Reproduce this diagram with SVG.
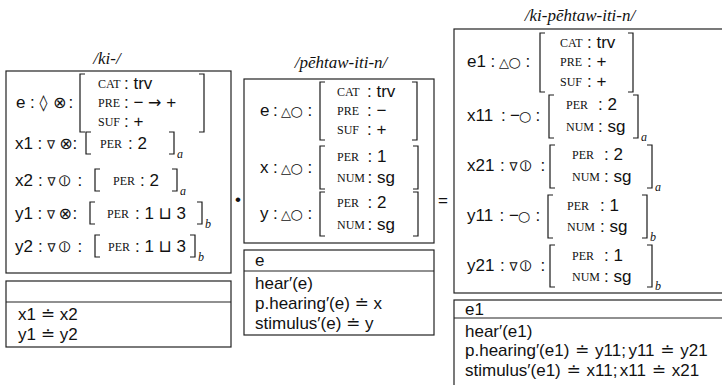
<svg xmlns="http://www.w3.org/2000/svg" width="722" height="385" viewBox="0 0 722 385">
<style>
.box{fill:#fff;stroke:#222;stroke-width:1.2}
.ln{stroke:#222;stroke-width:1.2}
.br{fill:none;stroke:#1a1a1a;stroke-width:1.2}
.t{font-family:"Liberation Sans","DejaVu Sans",sans-serif;font-size:17px;fill:#111}
.sy{font-family:"DejaVu Sans",sans-serif;font-size:16px}
.ar{font-family:"DejaVu Sans",sans-serif;font-size:16px}
.tri{font-family:"DejaVu Sans",sans-serif;font-size:13px}
.cir{font-family:"DejaVu Sans",sans-serif;font-size:14px}
.nab{font-family:"DejaVu Sans",sans-serif;font-size:12px}
.cv{font-family:"DejaVu Sans",sans-serif;font-size:16px}
.f{font-family:"Liberation Serif","DejaVu Serif",serif;font-size:12px;fill:#111}
.ti{font-family:"Liberation Serif","DejaVu Serif",serif;font-style:italic;font-size:17px;fill:#111}
.sub{font-family:"Liberation Serif","DejaVu Serif",serif;font-style:italic;font-size:12px;fill:#111}
</style>
<rect width="722" height="385" fill="#fff"/>

<g id="ki">
<text class="ti" x="107" y="64" text-anchor="middle">/ki-/</text>
<rect class="box" x="6" y="71" width="225" height="202"/>
<text class="t" y="108"><tspan x="16">e</tspan><tspan x="30">:</tspan><tspan class="sy" x="39.5">◊</tspan><tspan class="sy" x="53">⊗</tspan><tspan x="68.5">:</tspan></text>
<path class="br" d="M85,74 H80 V132 H85 M199,74 H204 V132 H199"/>
<text class="f" x="98" y="88">CAT</text><text class="t" x="124" y="89">: trv</text>
<text class="f" x="98" y="107">PRE</text><text class="t" x="124" y="108">: − <tspan class="ar">→</tspan> +</text>
<text class="f" x="98" y="126">SUF</text><text class="t" x="124" y="127">: +</text>

<text class="t" y="149"><tspan x="15">x1</tspan><tspan x="37.6">:</tspan><tspan class="nab" x="47">∇</tspan><tspan class="sy" x="59.3">⊗</tspan><tspan x="72.6">:</tspan></text>
<path class="br" d="M91,132 H86 V154 H91 M169,132 H174 V154 H169"/>
<text class="f" x="100" y="148">PER</text><text class="t" x="128" y="149">: 2</text>
<text class="sub" x="177" y="158">a</text>

<text class="t" y="186"><tspan x="15">x2</tspan><tspan x="38">:</tspan><tspan class="nab" x="47.5">∇</tspan><tspan class="cv" x="58.5">⦶</tspan><tspan x="77.6">:</tspan></text>
<path class="br" d="M100,169 H95 V191 H100 M172,169 H177 V191 H172"/>
<text class="f" x="113" y="185">PER</text><text class="t" x="140" y="186">: 2</text>
<text class="sub" x="180" y="195">a</text>

<text class="t" y="219"><tspan x="15">y1</tspan><tspan x="37.6">:</tspan><tspan class="nab" x="47">∇</tspan><tspan class="sy" x="58.6">⊗</tspan><tspan x="72.6">:</tspan></text>
<path class="br" d="M95,202 H90 V224 H95 M197,202 H202 V224 H197"/>
<text class="f" x="107" y="218">PER</text><text class="t" x="135" y="219">: 1 ⊔ 3</text>
<text class="sub" x="205" y="228">b</text>

<text class="t" y="252"><tspan x="15">y2</tspan><tspan x="38">:</tspan><tspan class="nab" x="47.5">∇</tspan><tspan class="cv" x="58.5">⦶</tspan><tspan x="77.6">:</tspan></text>
<path class="br" d="M100,235 H95 V257 H100 M190,235 H195 V257 H190"/>
<text class="f" x="108" y="251">PER</text><text class="t" x="135" y="252">: 1 ⊔ 3</text>
<text class="sub" x="198" y="261">b</text>
</g>

<g id="ki-conditions">
<rect class="box" x="6" y="281" width="225" height="66"/>
<line class="ln" x1="6" y1="302" x2="231" y2="302"/>
<text class="t" x="18" y="320">x1 ≐ x2</text>
<text class="t" x="18" y="340">y1 ≐ y2</text>
</g>

<g id="op-compose">
<text class="t" x="238" y="205" text-anchor="middle" font-size="19">•</text>
</g>

<g id="pehtaw">
<text class="ti" x="341" y="68" text-anchor="middle">/pēhtaw-iti-n/</text>
<rect class="box" x="244" y="79" width="190" height="164"/>
<text class="t" y="116"><tspan x="260">e</tspan><tspan x="273">:</tspan><tspan class="tri" x="281">△</tspan><tspan class="cir" x="290.5">○</tspan><tspan x="307.6">:</tspan></text>
<path class="br" d="M325,82 H320 V140 H325 M412,82 H417 V140 H412"/>
<text class="f" x="337" y="96">CAT</text><text class="t" x="367" y="97">: trv</text>
<text class="f" x="337" y="115">PRE</text><text class="t" x="367" y="116">: −</text>
<text class="f" x="337" y="134">SUF</text><text class="t" x="367" y="135">: +</text>

<text class="t" y="173"><tspan x="260">x</tspan><tspan x="273">:</tspan><tspan class="tri" x="281">△</tspan><tspan class="cir" x="290.5">○</tspan><tspan x="307.6">:</tspan></text>
<path class="br" d="M325,146 H320 V189 H325 M413,146 H418 V189 H413"/>
<text class="f" x="337" y="161">PER</text><text class="t" x="367.5" y="162">: 1</text>
<text class="f" x="337" y="182">NUM</text><text class="t" x="367.5" y="183">: sg</text>

<text class="t" y="219"><tspan x="260">y</tspan><tspan x="273">:</tspan><tspan class="tri" x="281">△</tspan><tspan class="cir" x="290.5">○</tspan><tspan x="307.6">:</tspan></text>
<path class="br" d="M325,192 H320 V236 H325 M413,192 H418 V236 H413"/>
<text class="f" x="337" y="207">PER</text><text class="t" x="367.5" y="208">: 2</text>
<text class="f" x="337" y="229">NUM</text><text class="t" x="367.5" y="230">: sg</text>
</g>

<g id="pehtaw-conditions">
<rect class="box" x="244" y="250" width="190" height="85"/>
<line class="ln" x1="244" y1="271" x2="434" y2="271"/>
<text class="t" x="255" y="266">e</text>
<text class="t" x="255" y="289">hear′(e)</text>
<text class="t" x="255" y="309">p.hearing′(e) ≐ x</text>
<text class="t" x="255" y="329">stimulus′(e) ≐ y</text>
</g>

<g id="op-equals">
<text class="t" x="443" y="206" text-anchor="middle">=</text>
</g>

<g id="ki-pehtaw">
<text class="ti" x="580" y="21" text-anchor="middle">/ki-pēhtaw-iti-n/</text>
<rect class="box" x="454" y="29" width="280" height="264"/>
<text class="t" y="67"><tspan x="467">e1</tspan><tspan x="490.5">:</tspan><tspan class="tri" x="499">△</tspan><tspan class="cir" x="508.5">○</tspan><tspan x="525.6">:</tspan></text>
<path class="br" d="M545,33 H540 V92 H545 M628,33 H633 V92 H628"/>
<text class="f" x="560" y="47">CAT</text><text class="t" x="587" y="48">: trv</text>
<text class="f" x="560" y="66">PRE</text><text class="t" x="587" y="67">: +</text>
<text class="f" x="560" y="86">SUF</text><text class="t" x="587" y="87">: +</text>

<text class="t" y="121"><tspan x="467">x11</tspan><tspan x="501">:</tspan><tspan x="510">−</tspan><tspan class="cir" x="519">○</tspan><tspan x="535.6">:</tspan></text>
<path class="br" d="M554,95 H549 V138 H554 M633,95 H638 V138 H633"/>
<text class="f" x="566" y="109">PER</text><text class="t" x="598" y="110">: 2</text>
<text class="f" x="566" y="131">NUM</text><text class="t" x="598" y="132">: sg</text>
<text class="sub" x="641" y="141">a</text>

<text class="t" y="171"><tspan x="467">x21</tspan><tspan x="500">:</tspan><tspan class="nab" x="509.5">∇</tspan><tspan class="cv" x="520.3">⦶</tspan><tspan x="540.6">:</tspan></text>
<path class="br" d="M555,145 H550 V188 H555 M647,145 H652 V188 H647"/>
<text class="f" x="572" y="159">PER</text><text class="t" x="604" y="160">: 2</text>
<text class="f" x="572" y="181">NUM</text><text class="t" x="604" y="182">: sg</text>
<text class="sub" x="655" y="191">a</text>

<text class="t" y="221"><tspan x="467">y11</tspan><tspan x="499.5">:</tspan><tspan x="509">−</tspan><tspan class="cir" x="518">○</tspan><tspan x="535.6">:</tspan></text>
<path class="br" d="M553,195 H548 V238 H553 M642,195 H647 V238 H642"/>
<text class="f" x="567" y="210">PER</text><text class="t" x="600" y="211">: 1</text>
<text class="f" x="567" y="231">NUM</text><text class="t" x="600" y="232">: sg</text>
<text class="sub" x="650" y="241">b</text>

<text class="t" y="271"><tspan x="467">y21</tspan><tspan x="500">:</tspan><tspan class="nab" x="509.5">∇</tspan><tspan class="cv" x="520.3">⦶</tspan><tspan x="540.6">:</tspan></text>
<path class="br" d="M555,245 H550 V287 H555 M647,245 H652 V287 H647"/>
<text class="f" x="572" y="260">PER</text><text class="t" x="604" y="261">: 1</text>
<text class="f" x="572" y="281">NUM</text><text class="t" x="604" y="282">: sg</text>
<text class="sub" x="655" y="290">b</text>
</g>

<g id="ki-pehtaw-conditions">
<rect class="box" x="454" y="300" width="280" height="100"/>
<line class="ln" x1="454" y1="318" x2="722" y2="318"/>
<text class="t" x="465" y="315">e1</text>
<text class="t" x="465" y="337">hear′(e1)</text>
<text class="t" x="465" y="356">p.hearing′(e1) <tspan dx="1">≐</tspan> <tspan dx="1">y11;</tspan><tspan dx="2.5">y11</tspan> <tspan dx="1">≐</tspan> <tspan dx="1">y21</tspan></text>
<text class="t" x="465" y="376">stimulus′(e1) <tspan dx="1">≐</tspan> <tspan dx="1">x11;</tspan><tspan dx="2.5">x11</tspan> <tspan dx="1">≐</tspan> <tspan dx="1">x21</tspan></text>
</g>
</svg>
